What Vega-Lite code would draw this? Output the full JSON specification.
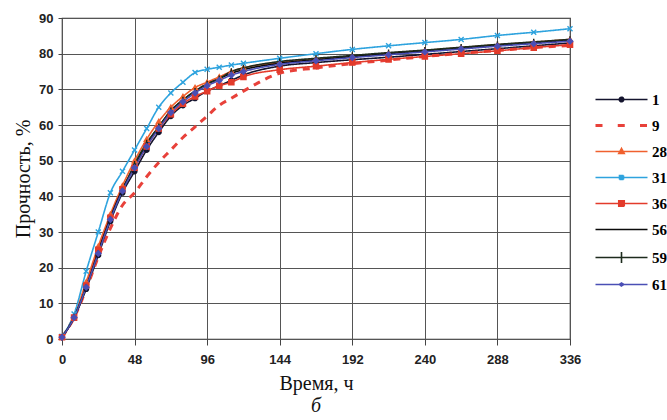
{
  "$schema": "https://vega.github.io/schema/vega-lite/v6.json",
  "width": 508,
  "height": 321,
  "autosize": {"type": "none"},
  "padding": {"left": 62, "top": 18, "right": 97, "bottom": 81},
  "background": "white",
  "config": {
    "view": {"stroke": "#333", "strokeWidth": 1.2},
    "axis": {"gridColor": "#555", "gridWidth": 1, "gridOpacity": 1, "domain": false, "tickColor": "#444",
      "labelFont": "Liberation Sans", "labelFontWeight": "bold", "labelFontSize": 13, "labelColor": "#222",
      "titleFont": "Liberation Serif", "titleFontWeight": "normal", "titleFontSize": 20, "titleColor": "#111"}
  },
  "title": {"text": "б", "orient": "bottom", "font": "serif", "fontStyle": "italic", "fontWeight": "normal", "fontSize": 20, "color": "#111", "offset": 3},
  "data": {"values": [
    {"t": 0, "1": 0.5, "9": 0.5, "28": 0.5, "31": 0.8, "36": 0.5, "56": 0.5, "59": 0.5, "61": 0.5},
    {"t": 8, "1": 6, "9": 6, "28": 6.5, "31": 7, "36": 6, "56": 6, "59": 6.2, "61": 6},
    {"t": 16, "1": 14, "9": 14, "28": 16, "31": 19, "36": 15, "56": 14.5, "59": 14.5, "61": 14.5},
    {"t": 24, "1": 23.5, "9": 23, "28": 26, "31": 30, "36": 25, "56": 24.5, "59": 24, "61": 24},
    {"t": 32, "1": 33, "9": 31, "28": 35, "31": 41, "36": 34, "56": 34, "59": 33.5, "61": 33.5},
    {"t": 40, "1": 41, "9": 37.5, "28": 43, "31": 47, "36": 42, "56": 42, "59": 41.5, "61": 41.5},
    {"t": 48, "1": 47, "9": 41, "28": 50, "31": 53, "36": 48, "56": 48.5, "59": 49, "61": 48},
    {"t": 56, "1": 53, "9": 45.5, "28": 56, "31": 59, "36": 54, "56": 54.5, "59": 55, "61": 54},
    {"t": 64, "1": 58, "9": 49.5, "28": 61, "31": 65, "36": 59, "56": 59.5, "59": 59.5, "61": 59},
    {"t": 72, "1": 62.5, "9": 53, "28": 65, "31": 69, "36": 63, "56": 64, "59": 64, "61": 63.5},
    {"t": 80, "1": 65.5, "9": 56.5, "28": 68, "31": 72, "36": 66, "56": 67, "59": 67, "61": 66.5},
    {"t": 88, "1": 67.5, "9": 59.5, "28": 70.5, "31": 74.7, "36": 68, "56": 69.5, "59": 69.5, "61": 69},
    {"t": 96, "1": 69.5, "9": 62.5, "28": 72, "31": 75.6, "36": 69.5, "56": 71.5, "59": 71.5, "61": 71},
    {"t": 104, "1": 71, "9": 65.5, "28": 73.5, "31": 76.2, "36": 71, "56": 73, "59": 73, "61": 72.5},
    {"t": 112, "1": 72.5, "9": 67.5, "28": 75, "31": 76.8, "36": 72, "56": 74.5, "59": 75, "61": 74},
    {"t": 120, "1": 74, "9": 69.5, "28": 76, "31": 77.3, "36": 73.5, "56": 75.5, "59": 76, "61": 75},
    {"t": 144, "1": 76.5, "9": 74.5, "28": 77.5, "31": 78.7, "36": 75.5, "56": 77.3, "59": 77.8, "61": 77},
    {"t": 168, "1": 77.5, "9": 76, "28": 78.5, "31": 80, "36": 76.5, "56": 78.3, "59": 78.7, "61": 78},
    {"t": 192, "1": 78.3, "9": 77.2, "28": 79.3, "31": 81.2, "36": 77.5, "56": 79.2, "59": 79.5, "61": 78.9},
    {"t": 216, "1": 79, "9": 78.2, "28": 80.1, "31": 82.2, "36": 78.4, "56": 80, "59": 80.3, "61": 79.7},
    {"t": 240, "1": 79.8, "9": 79.2, "28": 80.9, "31": 83.1, "36": 79.2, "56": 80.8, "59": 81, "61": 80.5},
    {"t": 264, "1": 80.6, "9": 80.1, "28": 81.7, "31": 84, "36": 80, "56": 81.6, "59": 81.8, "61": 81.3},
    {"t": 288, "1": 81.4, "9": 80.9, "28": 82.5, "31": 85.1, "36": 80.8, "56": 82.4, "59": 82.6, "61": 82.1},
    {"t": 312, "1": 82.2, "9": 81.7, "28": 83.2, "31": 86, "36": 81.7, "56": 83.1, "59": 83.3, "61": 82.8},
    {"t": 336, "1": 83, "9": 82.3, "28": 84, "31": 87, "36": 82.5, "56": 83.8, "59": 84, "61": 83.5}
  ]},
  "transform": [{"fold": ["1", "9", "28", "31", "36", "56", "59", "61"], "as": ["series", "v"]}],
  "encoding": {
    "x": {"field": "t", "type": "quantitative", "scale": {"domain": [0, 336], "nice": false},
      "axis": {"values": [0, 48, 96, 144, 192, 240, 288, 336], "title": "Время, ч", "tickSize": 6, "labelPadding": 8, "titlePadding": 7, "labelFlush": false}},
    "y": {"field": "v", "type": "quantitative", "scale": {"domain": [0, 90], "nice": false},
      "axis": {"values": [0, 10, 20, 30, 40, 50, 60, 70, 80, 90], "title": "Прочность, %", "tickSize": 4, "labelPadding": 5, "titlePadding": 5}}
  },
  "layer": [
    {
      "mark": {"type": "line", "interpolate": "monotone"},
      "encoding": {
        "color": {"field": "series", "type": "nominal",
          "scale": {"domain": ["1", "9", "28", "31", "36", "56", "59", "61"],
            "range": ["#14142e", "#e8413a", "#f0602e", "#2ea3de", "#e33b2b", "#0a0a0a", "#1d2b1d", "#4a4fb5"]},
          "legend": {"orient": "none", "legendX": 552, "legendY": 74, "title": null, "symbolSize": 100,
            "labelOffset": 23, "rowPadding": 10, "padding": 0, "labelFont": "Times New Roman", "labelFontWeight": "bold",
            "labelFontSize": 15, "labelColor": "#000",
            "encode": {"symbols": {"update": {
              "shape": {"signal": "datum.value=='1' ? 'M-5.2,0L5.2,0M0.45,0A0.45,0.45,0,1,1,-0.45,0A0.45,0.45,0,1,1,0.45,0Z' : datum.value=='9' ? 'M-5.2,0L-3.7,0M-0.75,0L0.75,0M3.7,0L5.2,0' : datum.value=='28' ? 'M-5.2,0L5.2,0M0,-0.6L0.55,0.4L-0.55,0.4Z' : datum.value=='31' ? 'M-5.2,0L5.2,0M-0.4,-0.4L0.4,-0.4L0.4,0.4L-0.4,0.4Z' : datum.value=='36' ? 'M-5.2,0L5.2,0M-0.55,-0.55L0.55,-0.55L0.55,0.55L-0.55,0.55Z' : datum.value=='59' ? 'M-5.2,0L5.2,0M0,-1.1L0,1.1' : datum.value=='61' ? 'M-5.2,0L5.2,0M-0.45,0L0,-0.3L0.45,0L0,0.3Z' : 'M-5.2,0L5.2,0'"},
              "fill": {"signal": "scale('color', datum.value)"},
              "stroke": {"signal": "scale('color', datum.value)"},
              "strokeWidth": {"signal": "datum.value=='9' ? 3 : 1.6"},
              "strokeDash": {"value": []},
              "opacity": {"value": 1}
            }}}}},
        "strokeDash": {"field": "series", "type": "nominal",
          "scale": {"domain": ["1", "9", "28", "31", "36", "56", "59", "61"],
            "range": [[1, 0], [7, 6], [1, 0], [1, 0], [1, 0], [1, 0], [1, 0], [1, 0]]}, "legend": null},
        "strokeWidth": {"condition": {"test": "datum.series=='9'", "value": 3}, "value": 1.6}
      }
    },
    {
      "transform": [{"filter": "datum.series != '9' && datum.series != '56'"}],
      "mark": {"type": "point", "filled": true, "strokeWidth": 1.4, "opacity": 1},
      "encoding": {
        "color": {"field": "series", "type": "nominal"},
        "stroke": {"field": "series", "type": "nominal",
          "scale": {"domain": ["1", "9", "28", "31", "36", "56", "59", "61"],
            "range": ["#14142e", "#e8413a", "#f0602e", "#2ea3de", "#e33b2b", "#0a0a0a", "#1d2b1d", "#4a4fb5"]}, "legend": null},
        "shape": {"field": "series", "type": "nominal",
          "scale": {"domain": ["1", "28", "31", "36", "59", "61"],
            "range": ["circle", "triangle-up", "M-1,-1L1,1M-1,1L1,-1", "square", "M0,-1.2L0,1.2M-0.5,0L0.5,0", "diamond"]}, "legend": null},
        "size": {"field": "series", "type": "nominal",
          "scale": {"domain": ["1", "28", "31", "36", "59", "61"], "range": [22, 30, 36, 22, 50, 14]}, "legend": null}
      }
    }
  ]
}
